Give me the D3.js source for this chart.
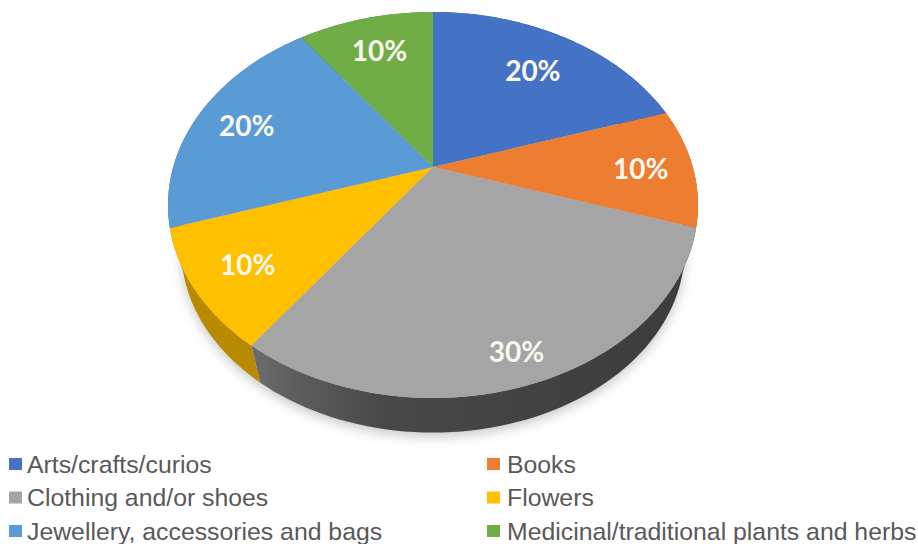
<!DOCTYPE html>
<html>
<head>
<meta charset="utf-8">
<script src="https://cdn.jsdelivr.net/npm/d3@7/dist/d3.min.js"></script>
<style>
html,body{margin:0;padding:0;background:#fff;}
svg{display:block;}
</style>
</head>
<body>
<svg id="chart" width="918" height="544"></svg>
<script>
// Market stall categories and their shares, in percent
const categories = [
  "Arts/crafts/curios",
  "Books",
  "Clothing and/or shoes",
  "Flowers",
  "Jewellery, accessories and bags",
  "Medicinal/traditional plants and herbs"
];
const shares = [20, 10, 30, 10, 20, 10];
const faceColors = ["#4472c4", "#ed7d31", "#a5a5a5", "#ffc000", "#5b9bd5", "#70ad47"];
const wallColors = ["#2f5597", "#b85f1f", "#474747", "#b98a00", "#3f74a6", "#4f7f30"];

// Radial placement of each percentage label, as a fraction of the disc radius
const labelReach = [0.73, 0.80, 0.87, 0.80, 0.79, 0.76];

const svg = d3.select("#chart");
const defs = svg.append("defs");

// Tilted-disc perspective: centre on screen, scale factors and foreshortening
const cx = 433, cy = 167, scaleX = 259.8, scaleY = 185.5, tilt = 0.197;
const project = (angle, r = 1) => {
  const u = r * Math.sin(angle), v = r * Math.cos(angle), w = 1 + tilt * v;
  return [cx + scaleX * u / w, cy - scaleY * v / w];
};
// Lower rim of the disc: the upper rim shrunk toward a far vanishing point
const depthScale = 0.95, vanishY = 1090;
const lower = ([x, y]) => [cx + depthScale * (x - cx), vanishY + depthScale * (y - vanishY)];

const color = d3.scaleOrdinal().domain(categories).range(faceColors);
const wallColor = d3.scaleOrdinal().domain(categories).range(wallColors);

const arcs = d3.pie().sort(null).value((d, i) => shares[i])(categories);
const rim = a => d3.range(0, 61).map(i => project(a.startAngle + (a.endAngle - a.startAngle) * i / 60));
const outline = d3.line();

// Soft drop shadow beneath the disc
defs.append("filter").attr("id", "soft").attr("x", "-10%").attr("y", "-10%").attr("width", "120%").attr("height", "120%")
  .append("feGaussianBlur").attr("stdDeviation", 6);
const fullRim = d3.range(0, 121).map(i => lower(project(i / 120 * 2 * Math.PI)));
svg.append("path")
  .attr("d", outline(fullRim.map(([x, y]) => [x, y + 4])) + "Z")
  .attr("fill", "#9a9a9a").attr("opacity", 0.55).attr("filter", "url(#soft)");

// Shading across the clothing wall, lighter near the flowers slice
const grad = defs.append("linearGradient").attr("id", "wallShade")
  .attr("gradientUnits", "userSpaceOnUse").attr("x1", 255).attr("x2", 690).attr("y1", 0).attr("y2", 0);
[[0, "#6b6b6b"], [0.12, "#5a5a5a"], [0.3, "#484848"], [1, "#3c3c3c"]].forEach(([o, c]) =>
  grad.append("stop").attr("offset", o).attr("stop-color", c));

// Side walls
svg.append("g").selectAll("path").data(arcs).join("path")
  .attr("d", a => {
    const top = rim(a);
    return outline(top.concat(top.map(lower).reverse())) + "Z";
  })
  .attr("fill", a => a.data === categories[2] ? "url(#wallShade)" : wallColor(a.data));

// Top faces
svg.append("g").selectAll("path").data(arcs).join("path")
  .attr("d", a => outline([[cx, cy], ...rim(a)]) + "Z")
  .attr("fill", a => color(a.data));

// Percentage labels
svg.append("g").selectAll("text").data(arcs).join("text")
  .attr("transform", (a, i) => {
    const [x, y] = project((a.startAngle + a.endAngle) / 2, labelReach[i]);
    return `translate(${x},${y})`;
  })
  .attr("text-anchor", "middle").attr("dy", "0.42em")
  .attr("font-family", "Lato, 'Open Sans', sans-serif")
  .attr("font-weight", 700).attr("font-size", 28)
  .attr("fill", "#fbf8f0")
  .text((a, i) => shares[i] + "%");

// Legend: two columns, three rows
const legendX = d3.scalePoint().domain([0, 1]).range([9, 487]);
const legendY = d3.scalePoint().domain([0, 1, 2]).range([464, 531]);
const legend = svg.append("g").selectAll("g").data(categories).join("g")
  .attr("transform", (d, i) => `translate(${legendX(i % 2)},${legendY(Math.floor(i / 2))})`);
legend.append("rect").attr("x", 0).attr("y", -6).attr("width", 13).attr("height", 12)
  .attr("fill", d => color(d));
legend.append("text")
  .attr("x", (d, i) => i % 2 ? 20 : 18)
  .attr("dy", "0.36em")
  .attr("font-family", "'Liberation Sans', Arial, sans-serif")
  .attr("font-size", 24.8).attr("fill", "#595959")
  .text(d => d);
</script>
</body>
</html>
